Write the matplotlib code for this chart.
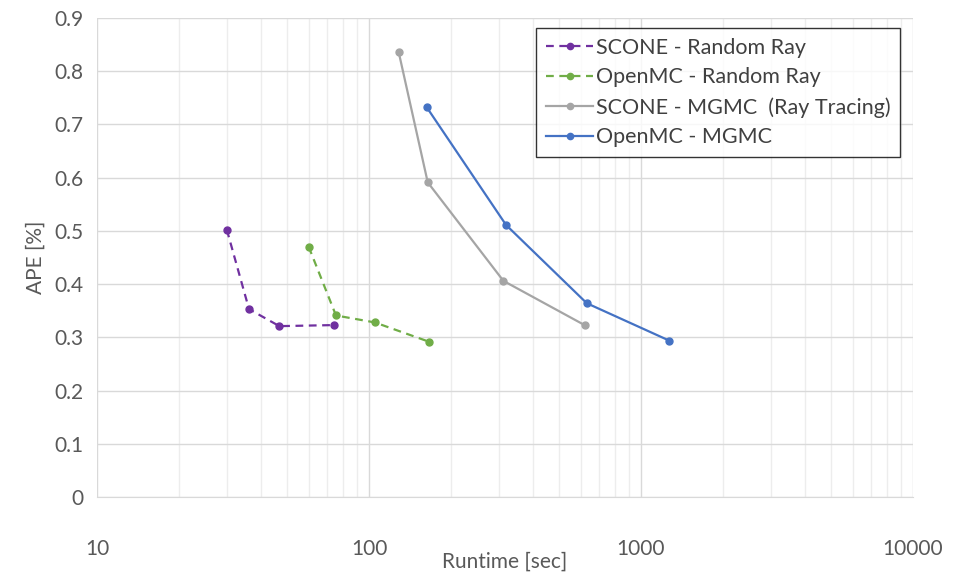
import matplotlib.pyplot as plt
import numpy as np

plt.rcParams['font.family'] = ['Lato', 'DejaVu Sans']

# data
scone_rr_t = [30, 36.2, 46.8, 74.5]
scone_rr_ape = [0.502, 0.353, 0.321, 0.323]

openmc_rr_t = [60, 75.6, 105, 165.6]
openmc_rr_ape = [0.470, 0.341, 0.328, 0.292]

scone_mgmc_t = [128.5, 164.4, 312, 620]
scone_mgmc_ape = [0.836, 0.591, 0.406, 0.323]

openmc_mgmc_t = [163, 319, 632, 1268]
openmc_mgmc_ape = [0.732, 0.511, 0.364, 0.294]

labels = ['SCONE - Random Ray', 'OpenMC - Random Ray',
          'SCONE - MGMC  (Ray Tracing)', 'OpenMC - MGMC']


def main():
    fig = plt.figure(figsize=(9.61, 5.74), dpi=100)
    ax = fig.add_axes([0.101, 0.134, 0.849, 0.835])

    ax.plot(scone_rr_t, scone_rr_ape, '--', color='#7030A0', marker='o',
            markersize=5, linewidth=1.6, dashes=(3.5, 2.5), label=labels[0])
    ax.plot(openmc_rr_t, openmc_rr_ape, '--', color='#70AD47', marker='o',
            markersize=5, linewidth=1.6, dashes=(3.5, 2.5), label=labels[1])
    ax.plot(scone_mgmc_t, scone_mgmc_ape, '-', color='#A5A5A5', marker='o',
            markersize=5, linewidth=1.6, label=labels[2])
    ax.plot(openmc_mgmc_t, openmc_mgmc_ape, '-', color='#4472C4', marker='o',
            markersize=5, linewidth=1.6, label=labels[3])

    # axes
    ax.set_xscale('log')
    ax.set_xlim(10, 10000)
    ax.set_ylim(0, 0.9)
    ax.set_yticks(np.arange(0, 0.91, 0.1))
    ax.set_yticklabels(['0'] + ['%.1f' % v for v in np.arange(0.1, 0.91, 0.1)])
    ax.set_xticks([10, 100, 1000, 10000])
    ax.set_xticklabels(['10', '100', '1000', '10000'])

    ax.set_xlabel('Runtime [sec]', fontsize=15, color='#595959')
    ax.xaxis.set_label_coords(0.5, -0.113)
    ax.set_ylabel('APE [%]', fontsize=15, color='#595959', labelpad=6)
    ax.tick_params(axis='both', which='both', length=0, labelsize=15,
                   colors='#595959')
    ax.tick_params(axis='x', pad=30)
    ax.tick_params(axis='y', pad=10)

    # grid
    ax.grid(True, which='major', axis='both', color='#D9D9D9', linewidth=1)
    ax.grid(True, which='minor', axis='x', color='#EDEDED', linewidth=1)
    ax.set_axisbelow(True)
    for s in ['top', 'right', 'left']:
        ax.spines[s].set_visible(False)
    ax.spines['bottom'].set_color('#D9D9D9')

    # legend
    leg = ax.legend(loc='upper right', bbox_to_anchor=(0.984, 0.979),
                    borderaxespad=0, fontsize=15.5, frameon=True,
                    fancybox=False, edgecolor='black', handlelength=2.2,
                    handletextpad=0.1, borderpad=0.45, labelspacing=0.45,
                    numpoints=1, markerscale=0.9)
    leg.get_frame().set_linewidth(1.0)
    for t in leg.get_texts():
        t.set_color('#404040')

    plt.savefig('out.png', dpi=100)


if __name__ == '__main__':
    main()
